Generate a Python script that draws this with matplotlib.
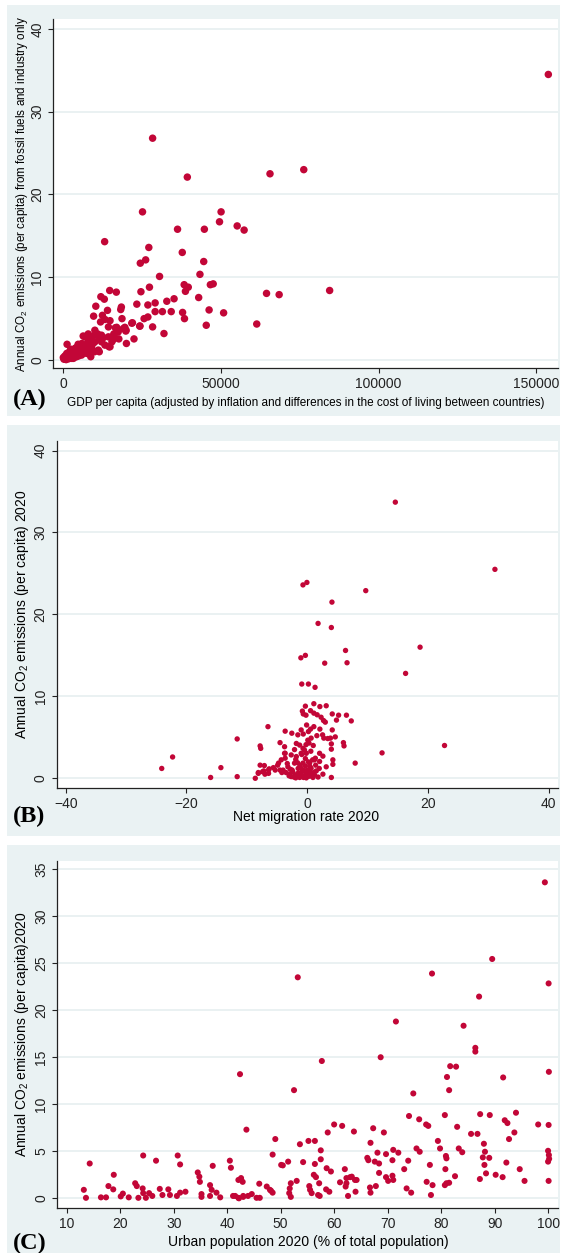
import matplotlib.pyplot as plt
from matplotlib.patches import Rectangle

plt.rcParams['font.family'] = ['Liberation Sans', 'DejaVu Sans']
plt.rcParams['mathtext.fontset'] = 'custom'
plt.rcParams['mathtext.rm'] = 'Liberation Sans'
plt.rcParams['mathtext.it'] = 'Liberation Sans:italic'

# ---------------- data ----------------
# (A) GDP per capita vs CO2 per capita (fossil fuels and industry)
gdp_x = [28400, 39400, 65600, 76300, 84500, 153800, 68500, 64500, 61400, 25200, 13200, 50100,
         49600, 55200, 57400, 36300, 44800, 37800, 27200, 26200, 24500, 30600, 43400, 44600,
         38400, 39700, 38800, 27400, 24700, 14800, 16900, 12000, 13100, 10400, 18500, 18300,
         23400, 26900, 29200, 35200, 32900, 43000, 46700, 47600, 37900, 38500, 46300, 50900,
         45400, 34300, 31500, 29200, 32000, 28400, 26900, 25700, 24300, 18700, 14100, 12500,
         9700, 11900, 14900, 14400, 16600, 19100, 21800, 19900, 22500, 20100, 17700, 16100,
         14600, 11500, 13300, 17000, 17500, 19600, 20000, 22000, 24400,
         10100, 11000, 8000, 6400, 12200, 14400, 16300, 8000, 10100, 12200, 13300, 14900, 11200,
         5100, 3800, 2200, 1200, 600, 100, 1700, 2700, 4000, 5400, 7000, 9100, 7500, 5900, 4300,
         3300, 1200, 1300, 7000, 7500, 6000, 9000, 8500, 10000, 3000, 2000, 800, 1500, 2500,
         3500, 4500, 5500, 6500, 7800, 9500, 11500, 4800, 2500, 300, 1000, 1800, 2800, 3600,
         5000, 6200, 8800, 9800, 12800, 15500, 16000, 6800, 4200, 3200]
gdp_y = [26.8, 22.1, 22.5, 23.0, 8.4, 34.5, 7.9, 8.05, 4.35, 17.9, 14.3, 17.9,
         16.7, 16.2, 15.7, 15.8, 15.8, 13.0, 13.6, 12.1, 11.7, 10.1, 10.35, 11.9,
         9.1, 8.8, 8.3, 8.8, 8.25, 8.4, 8.2, 7.65, 7.35, 6.5, 6.4, 6.1,
         6.75, 6.65, 6.9, 7.4, 7.1, 7.55, 9.1, 9.2, 5.75, 5.0, 6.05, 5.7,
         4.2, 5.85, 5.85, 5.85, 3.2, 4.0, 5.2, 5.0, 4.1, 5.0, 6.0, 5.4,
         5.3, 4.6, 4.75, 4.0, 3.9, 3.8, 4.45, 3.5, 2.55, 2.0, 2.55, 3.15,
         1.6, 1.0, 4.9, 3.95, 3.4, 3.95, 3.6, 4.5, 4.1,
         3.6, 3.15, 3.15, 2.9, 3.0, 2.8, 2.8, 2.4, 2.2, 2.2, 1.8, 1.6, 1.2,
         1.6, 1.4, 1.1, 0.8, 0.5, 0.3, 0.6, 0.8, 1.0, 1.2, 1.6, 1.6, 0.8, 0.6, 0.4,
         0.2, 0.2, 1.9, 2.8, 2.9, 2.0, 2.5, 1.2, 1.0, 0.6, 0.3, 0.1, 0.4, 0.5,
         0.9, 0.7, 1.0, 1.3, 2.0, 2.9, 2.6, 1.9, 1.3, 0.1, 0.05, 0.15, 0.2, 0.35,
         0.5, 0.8, 0.4, 2.1, 2.7, 2.2, 2.5, 1.5, 1.5, 1.0]

# (B) net migration rate vs CO2 per capita
mig_x = [-24.1, -22.3, -16.0, -14.3, -11.6, -11.6, -6.5, -7.8, -7.7, -4.5, -8.6, -7.8, -7.1,
         -8.1, -7.2, -7.0, -6.4, -5.6, -4.9, -4.5, -4.2,
         14.6, 31.1, -0.7, -0.05, 9.7, 4.1, 1.8, 4.0, 18.7, 6.35, 6.6, -1.05, -0.3, 2.9, 16.3,
         -0.9, 0.2, 1.3, 22.75, 12.4, 7.95, 4.0,
         1.1, 2.1, 3.15, -0.3, -0.8, -0.65, -0.2, 0.55, 1.1, 1.65, 4.15, 5.2, 6.5, 7.3, 2.3,
         2.7, 3.0, 4.85, 4.15, 4.65, 3.85, 4.0, 4.0, 2.55, 2.75, 3.4, 1.1, 0.55, 0.2, 6.0, 6.1,
         4.25, 4.25, 3.15, 2.05, 2.6, 2.05, 1.35, 0.9, -3.65, -2.55, -1.55, -0.65, -1.8, -1.25,
         -3.75, -0.7, 0.1, 0.65, -3.75, -2.65, -1.8, -3.65, -4.3, -1.0, -0.45, -0.15, -3.2,
         -2.4, -1.55, -0.7, 0.1, 0.65, 1.2, -2.65, -1.25, -0.15, 0.95, -2.1, -0.7, 0.4, 1.2,
         -3.5, -4.0, -3.65, -4.75, -6.3, -5.3, -7.4, -6.4, -8.1,
         -2.0, -1.0, -0.3, 0.5, -1.5, -2.8, -0.5, 0.3, 1.5, -3.0, -1.9, -0.3, 0.6, -0.2, 0.3,
         -1.2, 2.0, 2.6, 1.8, -0.9, 0.2, 1.0, -0.1, 1.6, 2.1, -2.1, -1.0,
         -2.2, -1.7, -1.3, -0.8, -0.4, 0.0, 0.4, 0.8, -2.5, -1.1, -0.6, 0.1, 0.7, -1.9, -0.2,
         -3.3, -2.9, 1.1, 1.4, -1.6]
mig_y = [1.2, 2.6, 0.1, 1.3, 4.8, 0.2, 6.3, 3.95, 3.65, 4.35, 0.0, 1.6, 1.55,
         0.7, 0.9, 0.5, 1.0, 1.3, 1.6, 1.0, 0.7,
         33.7, 25.5, 23.6, 23.9, 22.9, 21.5, 18.9, 18.4, 16.0, 15.6, 14.1, 14.7, 15.0, 14.05, 12.8,
         11.5, 11.5, 11.1, 4.0, 3.1, 1.85, 0.1,
         9.1, 8.75, 8.85, 8.8, 8.2, 7.85, 7.7, 8.25, 7.95, 7.75, 7.85, 7.7, 7.7, 7.0, 7.45,
         7.05, 6.85, 7.1, 5.9, 5.05, 4.9, 4.2, 3.55, 5.3, 4.9, 4.85, 6.3, 6.0, 5.7, 4.35, 3.95,
         2.25, 1.7, 1.4, 3.05, 2.7, 2.05, 2.45, 2.25, 5.75, 5.5, 5.3, 5.4, 4.25, 4.05,
         3.85, 3.65, 4.65, 4.9, 3.05, 2.85, 2.65, 2.45, 2.25, 3.05, 3.45, 3.05, 1.4,
         0.8, 0.6, 1.0, 0.6, 1.2, 0.4, 0.2, 0.1, 0.05, 0.1, 1.85, 1.85, 1.85, 2.25,
         0.7, 1.0, 3.05, 1.85, 1.15, 1.0, 0.8, 0.6, 0.6,
         0.4, 0.7, 1.5, 1.4, 1.2, 1.1, 0.3, 0.25, 0.9, 0.3, 2.3, 2.4, 3.3, 4.1, 4.3,
         1.6, 1.2, 0.5, 0.15, 2.9, 2.0, 4.0, 6.5, 5.2, 6.0, 3.5, 5.9,
         0.15, 0.35, 0.55, 0.2, 0.85, 0.4, 0.75, 0.5, 1.0, 1.3, 0.1, 1.0, 0.3, 0.05, 0.9,
         1.8, 0.5, 0.7, 1.6, 1.9]

# (C) urban population share vs CO2 per capita
urb_x = [13.2, 13.6, 14.3, 16.4, 17.35, 17.8, 18.7, 18.8, 20.1, 20.5, 21.6, 22.8, 23.1, 23.4,
         24.2, 24.3, 24.3, 24.8, 25.4, 26.0, 26.7, 27.4, 27.9, 29.0, 29.3, 30.75, 31.2, 30.6,
         31.2, 32.2, 34.9, 35.2, 35.2, 34.5, 34.8, 36.8, 37.3, 37.1, 36.8, 38.0, 38.7, 40.5,
         40.7, 41.1, 42.1, 42.4, 42.6, 42.9, 42.1, 43.0, 43.9, 44.6, 43.6, 45.5, 46.1, 46.0,
         47.4, 48.0, 48.5, 48.5, 49.0, 50.1, 42.2, 41.5, 43.0, 48.2,
         50.4, 51.4, 51.9, 53.0, 51.6, 51.9, 51.7, 52.5, 53.2, 53.6, 55.2, 56.4, 57.5, 58.8,
         60.0, 61.5, 63.7, 54.2, 56.4, 57.5, 58.6, 59.4, 56.2, 56.6, 57.2, 55.35, 55.5, 55.8,
         57.0, 57.3, 58.5, 59.1, 62.0, 62.3, 63.0, 63.3, 63.9, 64.2, 62.3, 62.15, 62.6, 64.0,
         61.1, 57.7,
         66.8, 67.3, 69.3, 68.1, 69.7, 71.05, 72.0, 70.9, 66.2, 66.4, 67.6, 68.4, 68.4, 69.7,
         70.1, 71.05, 70.9, 67.8, 66.7, 66.8, 68.7, 71.55,
         73.1, 73.85, 74.0, 75.9, 77.2, 77.6, 80.7, 83.0, 87.3, 89.1, 91.9, 92.4, 94.0, 98.15,
         100.1, 85.6, 86.8, 88.0, 92.7, 93.7, 79.4, 79.8, 80.9, 81.0, 83.3, 83.95, 88.2, 87.8,
         89.0, 88.1, 88.4, 92.2, 94.7, 100.0, 100.15, 100.2, 100.0, 100.1, 95.6, 91.5, 90.2,
         87.25, 75.4, 76.0, 77.9, 80.8, 82.6, 81.0, 80.7, 81.5, 77.3, 78.4, 78.1, 74.4, 73.55,
         74.8, 78.3, 81.5, 81.1, 81.7, 82.8, 84.2, 86.4, 86.4, 87.1, 89.55, 91.6, 99.4, 100.1,
         100.15]
urb_y = [0.9, 0.05, 3.7, 0.1, 0.1, 1.3, 0.95, 2.5, 0.2, 0.5, 0.1, 1.6, 1.3, 0.05,
         1.05, 0.55, 4.55, 0.05, 0.55, 0.25, 4.0, 1.0, 0.35, 0.95, 0.35, 4.55, 3.6, 0.25,
         0.6, 0.7, 1.75, 0.45, 0.15, 2.75, 2.3, 1.4, 3.45, 0.9, 0.25, 0.6, 0.1, 4.0,
         3.25, 0.25, 1.95, 13.2, 2.15, 1.75, 0.05, 0.25, 0.25, 0.45, 7.3, 0.05, 0.05, 1.55,
         1.25, 0.9, 0.6, 4.65, 6.3, 3.55, 0.0, 0.25, 0.15, 0.8,
         3.5, 3.9, 1.6, 1.85, 0.55, 0.15, 1.05, 11.5, 23.5, 5.75, 6.1, 6.1, 5.1, 7.0,
         7.85, 7.7, 7.1, 3.85, 3.65, 4.15, 3.2, 2.85, 2.5, 2.25, 1.6, 1.3, 0.9, 0.55,
         0.35, 0.25, 0.95, 0.7, 3.1, 2.15, 2.25, 2.3, 1.95, 1.95, 1.6, 1.25, 0.25, 0.7,
         1.7, 14.6,
         5.9, 7.45, 7.0, 4.85, 4.7, 5.15, 4.85, 4.05, 4.3, 4.05, 3.9, 3.7, 2.7, 2.25,
         1.85, 1.95, 2.4, 1.3, 1.15, 0.6, 15.0, 18.8,
         3.1, 4.0, 8.75, 8.4, 7.85, 7.7, 8.85, 7.6, 8.95, 8.85, 8.3, 8.0, 9.1, 7.85,
         7.8, 6.85, 6.85, 5.8, 6.3, 7.0, 6.1, 5.3, 4.5, 4.25, 5.3, 4.9, 4.95, 4.35,
         4.3, 3.55, 2.65, 3.8, 3.1, 5.05, 4.6, 4.2, 3.9, 1.85, 1.85, 2.25, 2.5,
         2.05, 5.3, 4.95, 3.55, 3.1, 2.35, 1.6, 1.4, 1.65, 1.75, 1.4, 0.35, 0.6, 1.05,
         11.15, 23.9, 11.5, 12.9, 14.05, 14.0, 18.35, 16.0, 15.6, 21.45, 25.45, 12.85, 33.6, 22.85,
         13.45]

gdp_ticks = [0, 50000, 100000, 150000]
gdp_ticklabels = ['0', '50000', '100000', '150000']
mig_ticks = [-40, -20, 0, 20, 40]
urb_xticks = [10, 20, 30, 40, 50, 60, 70, 80, 90, 100]
co2_ticks_ab = [0, 10, 20, 30, 40]
co2_ticks_c = [0, 5, 10, 15, 20, 25, 30, 35]

# ---------------- styling ----------------
W, H = 562, 1253
BG = '#EAF2F3'
GRID = '#E4EDEF'
DOT = '#C20637'

fig = plt.figure(figsize=(W / 100, H / 100), dpi=100)


def rect(l, t, r, b):
    return [l / W, 1 - b / H, (r - l) / W, (b - t) / H]


def ftext(x, y, s, **kw):
    fig.text(x / W, 1 - y / H, s, **kw)


def panel(bg, ax_box, xlim, ylim, xticks, yticks, xticklabels=None):
    l, t, r, b = bg
    fig.add_artist(Rectangle((l / W, 1 - b / H), (r - l) / W, (b - t) / H,
                             transform=fig.transFigure, facecolor=BG,
                             edgecolor='none', zorder=0))
    ax = fig.add_axes(rect(*ax_box))
    ax.set_facecolor('white')
    ax.set_xlim(*xlim)
    ax.set_ylim(*ylim)
    ax.set_xticks(xticks)
    if xticklabels is not None:
        ax.set_xticklabels(xticklabels)
    ax.set_yticks(yticks)
    for s in ['top', 'right']:
        ax.spines[s].set_visible(False)
    for s in ['left', 'bottom']:
        ax.spines[s].set_color('#222222')
        ax.spines[s].set_linewidth(0.9)
    ax.tick_params(direction='out', length=3.6, width=0.8, labelsize=10,
                   pad=3, colors='#222222')
    ax.tick_params(axis='y', labelrotation=90)
    for lab in ax.get_yticklabels():
        lab.set_va('center')
    ax.grid(axis='y', color=GRID, linewidth=1.1)
    ax.set_axisbelow(True)
    return ax


co2 = 'Annual CO$_\\mathrm{2}$ emissions (per capita)'

# (A)
axA = panel((7, 5, 560, 416), (53.3, 19, 557.7, 368.3), (-3070, 156770), (-1.0, 41.2),
            gdp_ticks, co2_ticks_ab, gdp_ticklabels)
axA.scatter(gdp_x, gdp_y, s=29, color=DOT, edgecolors='none', zorder=3)
ftext(305.5, 403, 'GDP per capita (adjusted by inflation and differences in the cost of living between countries)',
      ha='center', va='center', fontsize=8.5)
ftext(21.7, 193.7, co2 + ' from fossil fuels and industry only',
      ha='center', va='center', rotation=90, fontsize=8.4)
ftext(29.7, 399, '(A)', ha='center', va='center', fontsize=17.5,
      fontweight='bold', family='Liberation Serif')

# (B)
axB = panel((7, 425, 560, 836), (56.7, 440.7, 557.7, 787.7), (-41.5, 41.5), (-1.15, 41.2),
            mig_ticks, co2_ticks_ab)
axB.scatter(mig_x, mig_y, s=15, color=DOT, edgecolors='none', zorder=3)
ftext(306.5, 816.7, 'Net migration rate 2020', ha='center', va='center', fontsize=10)
ftext(21.7, 614.5, co2 + ' 2020', ha='center', va='center', rotation=90, fontsize=10)
ftext(29.3, 816.7, '(B)', ha='center', va='center', fontsize=17.5,
      fontweight='bold', family='Liberation Serif')

# (C)
axC = panel((7, 845, 560, 1253), (57.3, 860.7, 557.7, 1207.7), (8.24, 101.8), (-1.0, 35.9),
            urb_xticks, co2_ticks_c)
axC.scatter(urb_x, urb_y, s=19, color=DOT, edgecolors='none', zorder=3)
ftext(308.8, 1241.7, 'Urban population 2020 (% of total population)',
      ha='center', va='center', fontsize=10)
ftext(21.7, 1034, co2 + '2020', ha='center', va='center', rotation=90, fontsize=10)
ftext(30, 1243, '(C)', ha='center', va='center', fontsize=17.5,
      fontweight='bold', family='Liberation Serif')

fig.savefig('out.png', dpi=100, facecolor='white')
